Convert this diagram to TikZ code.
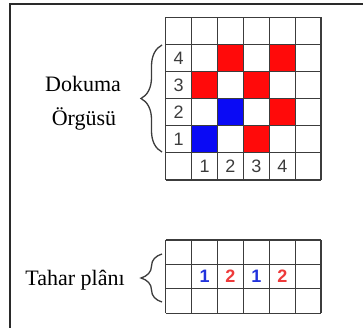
\documentclass[tikz,border=0pt]{standalone}
\usepackage{fontspec}
\setmainfont{Liberation Serif}
\setsansfont{Liberation Sans}
\usetikzlibrary{decorations.pathreplacing}
\definecolor{ink}{HTML}{3C3C3C}
\definecolor{edge}{HTML}{2A2A2A}
\definecolor{liftred}{HTML}{FF0A0A}
\definecolor{liftblue}{HTML}{0A0AF5}
\definecolor{digred}{HTML}{EE3A3A}
\definecolor{digblue}{HTML}{2233DD}

\begin{document}
\begin{tikzpicture}[
  x=1pt,y=-1pt,line join=miter,
  cellline/.style={draw=ink,line width=1.3pt},
  redcell/.style={fill=liftred},
  bluecell/.style={fill=liftblue},
  num/.style={font=\sffamily\fontsize{18}{18}\selectfont,text=ink,inner sep=0pt},
  plannum/.style={font=\sffamily\bfseries\fontsize{18}{18}\selectfont,inner sep=0pt},
  lbl/.style={font=\rmfamily\fontsize{22}{22}\selectfont,text=black,inner sep=0pt,anchor=base},
  brc/.style={draw=ink,line width=1.3pt,decorate,decoration={brace,amplitude=21pt}}
]
\useasboundingbox (0,0) rectangle (363,328);

% Page frame, running off the right and bottom edges.
\draw[edge,line width=2pt] (9.5,4) rectangle (380,345);

% Weave pattern: 6x6 cells, lifted cells filled.
\begin{scope}[shift={(165.7,17.3)},x=25.9pt,y=-27.1pt]
  \foreach \c/\r in {3/2,5/2,2/3,4/3,5/4,4/5}
    \fill[redcell] (\c-1,\r-1) rectangle (\c,\r);
  \foreach \c/\r in {3/4,2/5}
    \fill[bluecell] (\c-1,\r-1) rectangle (\c,\r);
  \foreach \i in {0,...,6}
    \draw[cellline] (\i,0) -- (\i,6);
  \foreach \j in {0,...,6}
    \draw[cellline] (0,\j) -- (6,\j);
  \foreach \n in {1,...,4} {
    \node[num] (row\n) at (0.5,5.5-\n) {\n};
    \node[num] (col\n) at (\n+0.5,5.5) {\n};
  }
\end{scope}

% Draft plan: 6x3 cells, shaft numbers in the middle row.
\begin{scope}[shift={(165.7,240)},x=25.9pt,y=-24.4pt]
  \foreach \i in {0,...,6}
    \draw[cellline] (\i,0) -- (\i,3);
  \foreach \j in {0,...,3}
    \draw[cellline] (0,\j) -- (6,\j);
  \foreach \n/\s/\col in {1/1/digblue,2/2/digred,3/1/digblue,4/2/digred}
    \node[plannum,text=\col] (plan\n) at (\n+0.5,1.5) {\s};
\end{scope}

% Braces and their labels.
\coordinate (wtop) at (162,45);
\coordinate (wbot) at (162,152);
\coordinate (ptop) at (162,254);
\coordinate (pbot) at (162,302);
\draw[brc] (wbot) -- (wtop);
\draw[brc] (pbot) -- (ptop);
\node[lbl] (dok) at (83,92) {Dokuma};
\node[lbl] (org) at (84,126) {Örgüsü};
\node[lbl] (tahar) at (75,285) {Tahar plânı};

\end{tikzpicture}
\end{document}
